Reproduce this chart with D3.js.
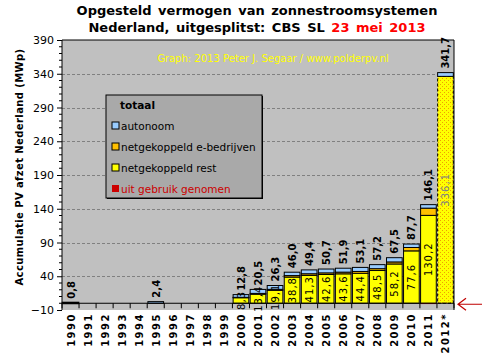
<!DOCTYPE html>
<html>
<head>
<meta charset="utf-8">
<script src="https://cdn.jsdelivr.net/npm/d3@7"></script>
<style>
  body { margin: 0; background: #fff; }
  svg { display: block; font-family: "DejaVu Sans", Verdana, sans-serif; }
</style>
</head>
<body>
<svg id="chart" width="491" height="361"></svg>
<script>
// data
var years = ["1990","1991","1992","1993","1994","1995","1996","1997","1998","1999",
  "2000","2001","2002","2003","2004","2005","2006","2007","2008","2009","2010","2011","2012*"];
var rest   = [0,0,0,0,0,0,0,0,0,0, 8.3,13.4,19.1,38.8,41.3,42.6,43.6,44.4,48.5,58.2,77.6,130.2,336.1];
var ebedr  = [0,0,0,0,0,0,0,0,0,0, 0.5,1.2,1.5,2.2,2.4,2.4,2.5,2.7,2.7,3.0,5.0,10.7,0];
var auto   = [0.8,0,0,0,0,2.4,0,0,0,0, 4.0,5.9,5.7,5.0,5.7,5.7,5.8,6.0,6.0,6.3,5.1,5.2,5.6];
var uit    = [0,0,0,0,0,0,0,0,0,0, 0,0,0,0,0,0,0,0,0,0,0,-1.2,0];
var totals = ["0,8",null,null,null,null,"2,4",null,null,null,null,
  "12,8","20,5","26,3","46,0","49,4","50,7","51,9","53,1","57,2","67,5","87,7","146,1","341,7"];
var restLabels = [null,null,null,null,null,null,null,null,null,null,
  "8,3","13,4","19,1","38,8","41,3","42,6","43,6","44,4","48,5","58,2","77,6","130,2","336,1"];
var yTicks = [-10,40,90,140,190,240,290,340,390];

var legendItems = [
  {name: "autonoom", color: "#99ccff", text: "#000"},
  {name: "netgekoppeld e-bedrijven", color: "#ffc000", text: "#000"},
  {name: "netgekoppeld rest", color: "#ffff00", text: "#000"},
  {name: "uit gebruik genomen", color: "#cc0000", text: "#cc0000"}
];

var svg = d3.select("#chart");
var pLeft = 62, pRight = 454, pTop = 40, pBottom = 310;

var table = years.map(function(y, i) {
  return {year: y, rest: rest[i], ebedr: ebedr[i], auto: auto[i], uit: uit[i], total: totals[i], restLabel: restLabels[i]};
});

var x = d3.scaleBand().domain(years).range([pLeft, pRight]).paddingInner(0.08).paddingOuter(0.04);
var y = d3.scaleLinear().domain([-10, 390]).range([pBottom, pTop]);

// defs: dotted pattern for the estimate bar
var defs = svg.append("defs");
var pat = defs.append("pattern").attr("id", "dots")
  .attr("width", 4).attr("height", 4).attr("patternUnits", "userSpaceOnUse");
pat.append("rect").attr("width", 4).attr("height", 4).attr("fill", "#ffff00");
pat.append("rect").attr("x", 0).attr("y", 0).attr("width", 1).attr("height", 1).attr("fill", "#f0a000");
pat.append("rect").attr("x", 2).attr("y", 2).attr("width", 1).attr("height", 1).attr("fill", "#f0a000");

// plot background
svg.append("rect")
  .attr("x", pLeft).attr("y", pTop)
  .attr("width", pRight - pLeft).attr("height", pBottom - pTop)
  .attr("fill", "#c0c0c0");

// grid lines
svg.append("g").selectAll("line")
  .data(yTicks.filter(function(d) { return d > -10 && d < 390; }))
  .enter().append("line")
  .attr("x1", pLeft).attr("x2", pRight)
  .attr("y1", function(d) { return Math.round(y(d)) + 0.5; })
  .attr("y2", function(d) { return Math.round(y(d)) + 0.5; })
  .attr("stroke", "#808080")
  .attr("stroke-dasharray", "3,2");

// watermark
svg.append("text")
  .attr("x", 273).attr("y", 62)
  .attr("text-anchor", "middle")
  .attr("font-size", 10)
  .attr("fill", "#ffff00")
  .text("Graph: 2013 Peter J. Segaar / www.polderpv.nl");

// stacked bars
var keys = ["rest", "ebedr", "auto"];
var fills = {rest: "#ffff00", ebedr: "#ffc000", auto: "#99ccff"};
var series = d3.stack().keys(keys)(table);

var bars = svg.append("g");
series.forEach(function(s) {
  bars.selectAll("rect." + s.key)
    .data(s.filter(function(d) { return d[1] - d[0] > 0; }))
    .enter().append("rect")
    .attr("class", s.key)
    .attr("x", function(d) { return x(d.data.year); })
    .attr("width", x.bandwidth())
    .attr("y", function(d) { return y(d[1]); })
    .attr("height", function(d) { return Math.max(0.5, y(d[0]) - y(d[1])); })
    .attr("fill", function(d) { return (s.key == "rest" && d.data.year == "2012*") ? "url(#dots)" : fills[s.key]; })
    .attr("stroke", "#000")
    .attr("stroke-width", function(d) { return d.data.year == "1990" ? 2 : 1; })
    .attr("stroke-dasharray", function(d) { return (s.key == "rest" && d.data.year == "2012*") ? "3,2" : null; });
});

// red: taken out of use (below zero)
bars.selectAll("rect.uit")
  .data(table.filter(function(d) { return d.uit < 0; }))
  .enter().append("rect")
  .attr("class", "uit")
  .attr("x", function(d) { return x(d.year); })
  .attr("width", x.bandwidth())
  .attr("y", y(0))
  .attr("height", function(d) { return y(d.uit) - y(0); })
  .attr("fill", "#cc0000");

// inner labels (yellow part)
svg.append("g").selectAll("text")
  .data(table.filter(function(d) { return d.restLabel; }))
  .enter().append("text")
  .attr("transform", function(d) {
    var cx = x(d.year) + x.bandwidth() / 2 + 4;
    var cy = (y(0) + y(d.rest)) / 2;
    return "translate(" + cx + "," + cy + ") rotate(-90)";
  })
  .attr("text-anchor", "middle")
  .attr("font-size", 10)
  .attr("letter-spacing", 1)
  .attr("fill", function(d) { return d.year == "2012*" ? "#808080" : "#000"; })
  .text(function(d) { return d.restLabel; });

// total labels
svg.append("g").selectAll("text")
  .data(table.filter(function(d) { return d.total; }))
  .enter().append("text")
  .attr("transform", function(d) {
    var cx = x(d.year) + x.bandwidth() / 2 + 4;
    var cy = y(d.rest + d.ebedr + d.auto) - 4;
    return "translate(" + cx + "," + cy + ") rotate(-90)";
  })
  .attr("font-size", 10)
  .attr("font-weight", "bold")
  .attr("fill", "#000")
  .text(function(d) { return d.total; });

// zero line with category ticks
svg.append("line")
  .attr("x1", pLeft).attr("x2", pRight)
  .attr("y1", y(0)).attr("y2", y(0))
  .attr("stroke", "#000");
svg.append("g").selectAll("line")
  .data(d3.range(years.length + 1))
  .enter().append("line")
  .attr("x1", function(i) { return pLeft + i * (pRight - pLeft) / years.length; })
  .attr("x2", function(i) { return pLeft + i * (pRight - pLeft) / years.length; })
  .attr("y1", y(0)).attr("y2", y(0) + 5)
  .attr("stroke", "#000");

// plot border (left, top, right)
svg.append("path")
  .attr("d", "M" + pLeft + "," + pBottom + "V" + pTop + "H" + pRight + "V" + pBottom)
  .attr("fill", "none")
  .attr("stroke", "#000");

// y axis
var yAxis = d3.axisLeft(y).tickValues(yTicks).tickSize(5).tickFormat(d3.format("d"));
var ga = svg.append("g").attr("transform", "translate(" + pLeft + ",0)").call(yAxis);
ga.select(".domain").remove();
ga.selectAll("text").attr("font-family", "DejaVu Sans").attr("font-size", 11).attr("fill", "#000");
svg.append("g").selectAll("line")
  .data(d3.range(-10, 391, 10).filter(function(d) { return (d + 10) % 50 != 0; }))
  .enter().append("line")
  .attr("x1", pLeft - 3).attr("x2", pLeft)
  .attr("y1", function(d) { return y(d); }).attr("y2", function(d) { return y(d); })
  .attr("stroke", "#000");

// x labels
svg.append("g").selectAll("text")
  .data(years)
  .enter().append("text")
  .attr("transform", function(d) {
    return "translate(" + (x(d) + x.bandwidth() / 2 + 4) + "," + 313 + ") rotate(-90)";
  })
  .attr("text-anchor", "end")
  .attr("font-size", 10)
  .attr("font-weight", "bold")
  .attr("letter-spacing", 1.5)
  .attr("fill", "#000")
  .text(function(d) { return d; });

// y title
svg.append("text")
  .attr("transform", "translate(23,167) rotate(-90)")
  .attr("text-anchor", "middle")
  .attr("font-size", 10)
  .attr("font-weight", "bold")
  .attr("letter-spacing", 0.4)
  .text("Accumulatie PV afzet Nederland (MWp)");

// title
var title = svg.append("text")
  .attr("x", 257).attr("y", 15)
  .attr("text-anchor", "middle")
  .attr("font-size", 13)
  .attr("font-weight", "bold")
  .attr("word-spacing", 2);
title.append("tspan").text("Opgesteld vermogen van zonnestroomsystemen");
var t2 = svg.append("text")
  .attr("x", 257).attr("y", 32)
  .attr("text-anchor", "middle")
  .attr("font-size", 13)
  .attr("font-weight", "bold")
  .attr("word-spacing", 2);
t2.append("tspan").text("Nederland,  uitgesplitst: CBS SL ");
t2.append("tspan").attr("fill", "#ff0000").text("23 mei 2013");

// legend
var lg = svg.append("g").attr("transform", "translate(106,95)");
lg.append("rect").attr("x", 1).attr("y", 1).attr("width", 156).attr("height", 103).attr("fill", "#000");
lg.append("rect").attr("width", 156).attr("height", 103).attr("fill", "#a9a9a9").attr("stroke", "#000");
lg.append("text").attr("x", 14).attr("y", 14)
  .attr("font-size", 10.5).attr("font-weight", "bold").text("totaal");
var li = lg.selectAll("g.item").data(legendItems).enter().append("g")
  .attr("class", "item")
  .attr("transform", function(d, i) { return "translate(0," + (31 + i * 21) + ")"; });
li.append("rect").attr("x", 6).attr("y", -4).attr("width", 7).attr("height", 7)
  .attr("fill", function(d) { return d.color; })
  .attr("stroke", function(d) { return d.name == "uit gebruik genomen" ? "none" : "#000"; });
li.append("text").attr("x", 15).attr("y", 4)
  .attr("font-size", 10.5)
  .attr("fill", function(d) { return d.text; })
  .text(function(d) { return d.name; });

// red arrow pointing at the out-of-use part
var ay = y(0) + 1;
svg.append("path")
  .attr("d", "M482," + ay + "H458M466," + (ay - 6) + "L458," + ay + "L466," + (ay + 6))
  .attr("fill", "none")
  .attr("stroke", "#c00000")
  .attr("stroke-width", 1.2);
</script>
</body>
</html>
